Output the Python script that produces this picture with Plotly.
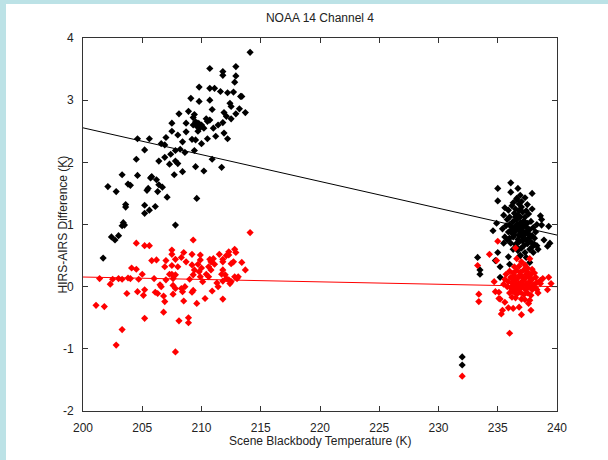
import plotly.graph_objects as go

# ---------------- data ----------------
black_x1 = [214.1, 210.7, 212.9, 211.8, 211.8, 212.9, 212.8, 209.8, 210.7, 211.1, 211.6, 212.2, 212.7, 213.3,
            209.1, 209.8, 210.7, 212.4, 212.5, 208.1, 208.9, 209.4, 209.3, 210.9, 211.9, 212.1, 211.8, 212.5,
            212.9, 213.7, 213.2, 213.4, 207.5, 208.7, 209.3, 209.7, 209.9, 209.6, 209.8, 210.0, 209.5, 210.5,
            210.7, 211.0, 211.4, 211.2, 210.5, 207.5, 208.0, 208.7, 209.2, 209.5, 210.0, 211.9, 212.2, 204.6,
            205.6, 205.2, 206.9, 207.4, 207.8, 208.2, 208.6, 209.4, 210.9, 211.7, 204.5, 204.6, 206.4, 206.9,
            207.8, 207.3, 208.0, 203.3, 203.8, 204.0, 205.7, 205.8, 206.2, 206.4, 206.7, 202.1, 202.8, 205.4,
            205.5, 206.3, 207.1, 207.7, 208.4, 209.5, 210.2, 203.6, 203.6, 205.2, 206.1, 205.6, 203.4, 203.5,
            205.2, 209.6, 207.8, 203.3, 202.4, 202.7, 203.0, 201.7, 210.2, 210.4, 209.7, 208.4, 206.6, 207.0]
black_y1 = [3.77, 3.51, 3.54, 3.46, 3.40, 3.39, 3.29, 3.21, 3.19, 3.19, 3.14, 3.12, 3.13, 3.06,
            3.03, 2.98, 3.00, 2.95, 2.90, 2.78, 2.82, 2.77, 2.72, 2.85, 2.80, 2.74, 2.64, 2.70,
            2.78, 2.80, 2.86, 3.06, 2.63, 2.63, 2.60, 2.63, 2.56, 2.58, 2.62, 2.60, 2.65, 2.66,
            2.68, 2.55, 2.60, 2.42, 2.38, 2.50, 2.44, 2.49, 2.37, 2.36, 2.30, 2.47, 2.38, 2.38,
            2.38, 2.20, 2.28, 2.13, 2.19, 2.21, 2.16, 2.19, 2.05, 1.92, 2.05, 1.79, 2.02, 2.08,
            2.02, 1.97, 1.98, 1.80, 1.65, 1.63, 1.75, 1.77, 1.72, 1.64, 1.60, 1.61, 1.53, 1.55,
            1.58, 1.53, 1.44, 1.80, 1.85, 1.93, 1.86, 1.32, 1.28, 1.31, 1.29, 1.23, 1.03, 0.99,
            1.18, 1.42, 0.99, 0.98, 0.80, 0.75, 0.82, 0.46, 2.55, 2.70, 2.50, 2.33, 2.30, 2.40]

red_x1 = [204.5, 205.2, 205.6, 209.3, 207.5, 207.5, 207.8, 209.2, 209.9, 209.9, 206.2, 206.9, 207.5, 207.5,
          207.3, 207.8, 204.1, 204.5, 208.7, 209.2, 209.7, 209.4, 209.3, 209.8, 209.9, 210.7, 210.8, 211.0,
          210.6, 210.8, 211.1, 210.4, 210.6, 211.8, 211.8, 212.1, 212.3, 212.3, 212.8, 212.9, 212.7, 212.5,
          213.4, 213.7, 211.8, 211.7, 212.0, 212.1, 212.3, 212.4, 212.5, 212.8, 213.0, 213.1, 211.4, 211.8,
          211.3, 211.8, 201.4, 202.3, 203.3, 203.8, 204.0, 204.7, 206.0, 207.0, 207.6, 203.7, 204.6, 205.2,
          205.1, 206.1, 206.3, 206.5, 206.6, 206.8, 206.9, 207.6, 207.8, 207.6, 208.3, 208.6, 208.4, 208.5,
          209.2, 209.3, 209.6, 210.3, 210.9, 201.1, 201.8, 206.8, 205.2, 208.1, 208.9, 208.9, 203.3, 202.8,
          207.8, 214.1, 210.1, 209.0, 208.0, 205.0, 202.5, 203.0, 210.0, 211.5, 208.3, 208.5, 205.8, 207.0]
red_y1 = [0.70, 0.66, 0.66, 0.75, 0.59, 0.52, 0.44, 0.52, 0.51, 0.43, 0.43, 0.32, 0.34, 0.20,
          0.20, 0.19, 0.30, 0.28, 0.40, 0.35, 0.36, 0.27, 0.19, 0.24, 0.16, 0.44, 0.40, 0.45,
          0.32, 0.27, 0.36, 0.20, 0.16, 0.44, 0.40, 0.50, 0.51, 0.56, 0.60, 0.55, 0.40, 0.37,
          0.39, 0.27, 0.27, 0.20, 0.19, 0.13, 0.11, 0.05, 0.08, 0.16, 0.13, 0.16, 0.00, -0.20,
          0.06, 0.09, 0.13, 0.04, 0.12, 0.14, 0.13, 0.12, 0.13, 0.11, 0.13, -0.11, -0.08, -0.05,
          -0.14, -0.09, -0.11, 0.03, 0.00, -0.15, -0.24, 0.02, -0.03, -0.12, -0.03, 0.00, -0.08, -0.23,
          -0.09, -0.06, -0.27, -0.19, -0.07, -0.30, -0.32, -0.41, -0.51, -0.55, -0.50, -0.58, -0.69, -0.94,
          -1.05, 0.87, 0.08, 0.12, 0.32, 0.20, 0.12, 0.13, 0.30, 0.52, 0.47, 0.55, 0.42, 0.42]

black_x2 = [236.1, 235.0, 236.7, 235.0, 237.9, 237.5, 236.6, 236.9, 235.9, 235.6, 238.7, 238.7, 238.6, 234.9,
            233.3, 233.5, 233.5, 235.2, 235.2, 236.0, 237.7, 232.0, 232.0, 239.3, 239.4, 239.2, 238.9, 238.3,
            234.6, 235.0, 234.8, 235.9, 236.9,
            236.2, 236.5, 236.8, 237.0, 236.4, 236.7, 237.1, 237.3, 236.0, 235.8, 236.3, 236.6, 236.9, 237.2,
            237.5, 237.8, 235.7, 236.1, 236.4, 236.8, 237.0, 237.4, 237.7, 238.0, 235.9, 236.2, 236.5, 236.9,
            237.2, 237.6, 237.9, 238.2, 235.6, 236.0, 236.3, 236.7, 237.1, 237.4, 237.8, 238.1, 236.1, 236.5,
            236.8, 237.2, 237.5, 236.3, 236.7, 237.0, 237.3, 237.7, 236.9, 237.4, 236.6, 237.0, 236.3, 237.6,
            235.5, 235.4, 235.5, 238.3, 238.4, 238.0, 237.9, 236.1, 237.3, 236.8, 236.9, 236.6, 236.7, 236.4,
            237.3, 237.1, 236.6, 236.2, 237.0, 237.5, 236.8, 237.2, 236.5, 237.4, 236.0, 235.8, 237.6, 238.1,
            237.9]
black_y2 = [1.67, 1.58, 1.58, 1.38, 1.50, 1.32, 1.42, 1.47, 1.23, 1.27, 1.08, 0.99, 1.14, 1.02,
            0.47, 0.27, 0.20, 0.32, 0.15, 0.36, 0.39, -1.13, -1.26, 0.97, 0.70, 0.65, 0.75, 0.66,
            0.90, 0.55, 0.42, 0.48, 0.50,
            1.30, 1.25, 1.33, 1.28, 1.18, 1.15, 1.20, 1.12, 1.12, 1.08, 1.05, 1.08, 1.03, 1.06,
            1.02, 1.05, 0.98, 0.97, 0.95, 0.98, 0.93, 0.96, 0.92, 0.95, 0.88, 0.86, 0.90, 0.86,
            0.88, 0.85, 0.82, 0.88, 0.80, 0.78, 0.80, 0.76, 0.79, 0.75, 0.72, 0.78, 0.70, 0.68,
            0.72, 0.66, 0.69, 0.60, 0.58, 0.62, 0.55, 0.60, 0.50, 0.47, 1.40, 1.37, 1.35, 1.17,
            1.15, 0.93, 0.70, 1.00, 0.60, 0.55, 1.25, 1.52, 1.43, 1.22, 1.12, 1.00, 0.92, 0.84,
            0.84, 0.73, 0.64, 0.92, 1.00, 0.90, 0.82, 0.98, 1.12, 1.22, 1.00, 0.75, 0.78, 0.68,
            0.64]

red_x2 = [235.0, 233.3, 234.9, 233.4, 233.4, 236.0, 235.4, 236.3, 236.8, 237.6, 238.3, 238.6, 238.6, 239.3,
          239.2, 239.5, 234.7, 234.8, 235.2, 235.6, 237.0, 236.5, 237.7, 234.3, 235.1, 235.1, 235.3, 235.9,
          237.8, 238.8, 232.0,
          236.0, 236.3, 236.6, 236.9, 237.2, 237.5, 237.8, 236.1, 236.4, 236.7, 237.0, 237.3, 237.6, 237.9,
          238.2, 235.9, 236.2, 236.5, 236.8, 237.1, 237.4, 237.7, 238.0, 238.3, 235.8, 236.1, 236.4, 236.7,
          237.0, 237.3, 237.6, 237.9, 238.2, 236.0, 236.3, 236.6, 236.9, 237.2, 237.5, 237.8, 236.5, 237.0,
          237.3, 236.2, 237.7, 236.8, 237.3, 236.4, 237.0, 236.6, 237.5, 237.9, 235.7, 235.6, 235.5, 238.1,
          238.4, 236.9, 237.1, 236.6, 237.4, 236.3, 237.6, 236.8, 237.2, 236.5, 237.9]
red_y2 = [0.73, 0.34, 0.42, -0.12, -0.24, -0.75, -0.38, -0.35, -0.33, -0.27, -0.05, 0.10, 0.05, 0.15,
          -0.05, 0.05, 0.08, -0.08, -0.20, -0.25, -0.45, 0.62, 0.45, 0.52, -0.09, -0.19, -0.44, -0.34,
          -0.38, 0.13, -1.44,
          0.25, 0.22, 0.26, 0.23, 0.27, 0.24, 0.20, 0.15, 0.18, 0.14, 0.17, 0.13, 0.16, 0.12,
          0.15, 0.08, 0.06, 0.10, 0.05, 0.09, 0.04, 0.08, 0.03, 0.07, 0.00, -0.02, 0.01, -0.03,
          0.00, -0.04, -0.01, -0.05, -0.02, -0.10, -0.08, -0.12, -0.09, -0.13, -0.10, -0.14, -0.18, -0.20,
          -0.21, -0.17, -0.22, 0.33, 0.35, 0.32, 0.40, 0.45, 0.30, 0.28, 0.20, 0.12, 0.04, 0.22,
          -0.10, 0.19, 0.03, 0.04, 0.20, 0.12, 0.06, -0.05, 0.11, -0.04, 0.00]

fit_x = [200, 240]
black_fit_y = [2.555, 0.83]
red_fit_y = [0.155, 0.0]

x_ticks = [200, 205, 210, 215, 220, 225, 230, 235, 240]
y_ticks = [-2, -1, 0, 1, 2, 3, 4]

title_text = "NOAA 14 Channel 4"
x_title = "Scene Blackbody Temperature (K)"
y_title = "HIRS-AIRS Difference (K)"

# ---------------- figure ----------------
FONT = "Liberation Sans, Arial, Helvetica, sans-serif"
TXT = "#222222"
fig = go.Figure()
mk = dict(symbol="diamond", size=5.5, line=dict(width=0))
fig.add_trace(go.Scatter(x=black_x1 + black_x2, y=black_y1 + black_y2, mode="markers",
                         marker=dict(color="black", **mk), showlegend=False))
fig.add_trace(go.Scatter(x=red_x1 + red_x2, y=red_y1 + red_y2, mode="markers",
                         marker=dict(color="#ff0000", **mk), showlegend=False))
fig.add_trace(go.Scatter(x=fit_x, y=black_fit_y, mode="lines",
                         line=dict(color="black", width=1), showlegend=False))
fig.add_trace(go.Scatter(x=fit_x, y=red_fit_y, mode="lines",
                         line=dict(color="#ff0000", width=1), showlegend=False))

axis_common = dict(showgrid=False, zeroline=False, showline=True, linecolor="#333333", linewidth=1,
                   mirror="ticks", ticks="inside", ticklen=5, tickcolor="#333333",
                   tickfont=dict(family=FONT, size=12, color=TXT))
fig.update_xaxes(range=[200, 240], tickvals=x_ticks, ticktext=[str(v) for v in x_ticks],
                 ticklabelstandoff=6, **axis_common)
fig.update_yaxes(range=[-2, 4], tickvals=y_ticks, ticktext=[str(v) for v in y_ticks],
                 ticklabelstandoff=6, **axis_common)

blue = "#bce2e6"
fig.update_layout(
    width=608, height=460,
    margin=dict(l=83, r=51, t=38, b=49),
    paper_bgcolor="white", plot_bgcolor="white",
    title=dict(text=title_text, x=0.5, xanchor="center", xref="paper",
               y=1 - 18 / 460, yanchor="middle", font=dict(family=FONT, size=12, color=TXT)),
    annotations=[
        dict(text=x_title, xref="paper", yref="paper", x=0.5, y=-30 / 373, xanchor="center",
             yanchor="middle", showarrow=False, font=dict(family=FONT, size=12, color=TXT)),
        dict(text=y_title, xref="paper", yref="paper", x=-21 / 474, y=0.5, xanchor="center",
             yanchor="middle", textangle=-90, showarrow=False, font=dict(family=FONT, size=12, color=TXT)),
    ],
    shapes=[
        dict(type="rect", xref="paper", yref="paper", xsizemode="pixel", ysizemode="pixel",
             xanchor=0, yanchor=0, x0=-83, x1=-77, y0=-49, y1=411,
             fillcolor=blue, line=dict(width=0), layer="below"),
        dict(type="rect", xref="paper", yref="paper", xsizemode="pixel", ysizemode="pixel",
             xanchor=0, yanchor=0, x0=-83, x1=525, y0=407, y1=411,
             fillcolor=blue, line=dict(width=0), layer="below"),
    ],
)

fig.write_html("out.html")
